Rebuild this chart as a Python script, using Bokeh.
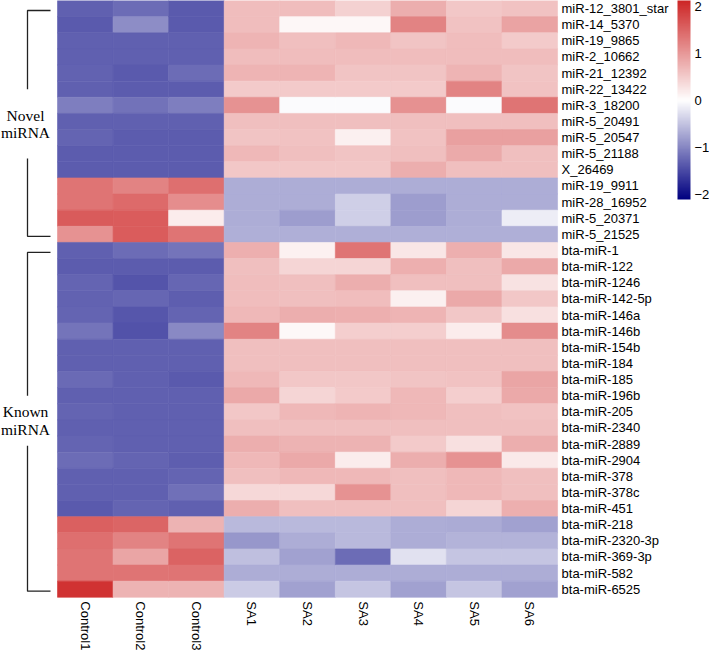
import math
from bokeh.plotting import figure
from bokeh.models import Range1d, LinearColorMapper, ColorBar, FixedTicker, ColumnDataSource
from bokeh.transform import transform
from bokeh.core.properties import value
from bokeh.embed import file_html
from bokeh.resources import INLINE

# ---------------- data ----------------
samples = ["Control1", "Control2", "Control3", "SA1", "SA2", "SA3", "SA4", "SA5", "SA6"]

novel = ["miR-12_3801_star", "miR-14_5370", "miR-19_9865", "miR-2_10662", "miR-21_12392",
         "miR-22_13422", "miR-3_18200", "miR-5_20491", "miR-5_20547", "miR-5_21188",
         "X_26469", "miR-19_9911", "miR-28_16952", "miR-5_20371", "miR-5_21525"]
known = ["bta-miR-1", "bta-miR-122", "bta-miR-1246", "bta-miR-142-5p", "bta-miR-146a",
         "bta-miR-146b", "bta-miR-154b", "bta-miR-184", "bta-miR-185", "bta-miR-196b",
         "bta-miR-205", "bta-miR-2340", "bta-miR-2889", "bta-miR-2904", "bta-miR-378",
         "bta-miR-378c", "bta-miR-451", "bta-miR-218", "bta-miR-2320-3p", "bta-miR-369-3p",
         "bta-miR-582", "bta-miR-6525"]
group_names = [("Novel", "miRNA"), ("Known", "miRNA")]

control1 = [-1.30, -1.35, -1.30, -1.30, -1.28, -1.30, -1.05, -1.30, -1.27, -1.33, -1.33,
            1.35, 1.35, 1.60, 1.05,
            -1.30, -1.33, -1.27, -1.28, -1.27, -1.13, -1.30, -1.30, -1.22, -1.30, -1.27,
            -1.30, -1.27, -1.20, -1.30, -1.30, -1.35, 1.55, 1.40, 1.35, 1.35, 2.00]
control2 = [-1.20, -0.93, -1.30, -1.30, -1.35, -1.33, -1.15, -1.30, -1.33, -1.33, -1.33,
            1.20, 1.45, 1.58, 1.58,
            -1.20, -1.33, -1.40, -1.25, -1.38, -1.42, -1.30, -1.30, -1.30, -1.30, -1.30,
            -1.30, -1.30, -1.27, -1.30, -1.30, -1.27, 1.50, 1.20, 0.88, 1.35, 0.75]
control3 = [-1.35, -1.35, -1.30, -1.30, -1.20, -1.33, -1.05, -1.30, -1.33, -1.33, -1.33,
            1.40, 1.10, 0.18, 1.35,
            -1.13, -1.33, -1.25, -1.32, -1.27, -0.97, -1.30, -1.30, -1.35, -1.30, -1.30,
            -1.30, -1.30, -1.32, -1.27, -1.17, -1.30, 0.75, 1.35, 1.52, 1.35, 0.75]
sa1 = [0.65, 0.65, 0.72, 0.65, 0.72, 0.52, 1.05, 0.62, 0.58, 0.70, 0.55,
       -0.67, -0.67, -0.67, -0.66,
       0.78, 0.62, 0.65, 0.65, 0.70, 1.20, 0.62, 0.62, 0.70, 0.85, 0.55,
       0.62, 0.80, 0.70, 0.62, 0.38, 0.80, -0.57, -0.85, -0.53, -0.67, -0.43]
sa2 = [0.65, 0.08, 0.62, 0.65, 0.72, 0.52, -0.03, 0.62, 0.60, 0.62, 0.55,
       -0.67, -0.67, -0.80, -0.66,
       0.13, 0.42, 0.62, 0.62, 0.80, 0.07, 0.62, 0.62, 0.55, 0.42, 0.70,
       0.62, 0.75, 0.85, 0.70, 0.38, 0.62, -0.57, -0.67, -0.78, -0.67, -0.78]
sa3 = [0.45, 0.08, 0.70, 0.65, 0.58, 0.52, -0.03, 0.62, 0.15, 0.58, 0.55,
       -0.67, -0.40, -0.40, -0.66,
       1.35, 0.42, 0.80, 0.65, 0.78, 0.48, 0.62, 0.62, 0.55, 0.52, 0.72,
       0.62, 0.75, 0.18, 0.70, 1.05, 0.62, -0.57, -0.57, -1.20, -0.67, -0.47]
sa4 = [0.80, 1.20, 0.58, 0.65, 0.58, 0.52, 1.07, 0.62, 0.60, 0.62, 0.80,
       -0.67, -0.80, -0.80, -0.66,
       0.25, 0.78, 0.62, 0.15, 0.72, 0.48, 0.62, 0.62, 0.58, 0.70, 0.70,
       0.62, 0.52, 0.80, 0.62, 0.62, 0.62, -0.67, -0.67, -0.25, -0.67, -0.78]
sa5 = [0.55, 0.60, 0.65, 0.65, 0.72, 1.20, -0.03, 0.62, 0.92, 0.82, 0.62,
       -0.67, -0.67, -0.67, -0.66,
       0.78, 0.62, 0.62, 0.85, 0.55, 0.18, 0.62, 0.62, 0.60, 0.48, 0.62,
       0.62, 0.30, 1.05, 0.70, 0.70, 0.42, -0.69, -0.63, -0.47, -0.67, -0.47]
sa6 = [0.60, 0.90, 0.52, 0.65, 0.58, 0.60, 1.35, 0.62, 0.92, 0.62, 0.62,
       -0.67, -0.67, -0.15, -0.66,
       0.25, 0.85, 0.28, 0.55, 0.30, 1.12, 0.62, 0.62, 0.88, 0.85, 0.60,
       0.62, 0.80, 0.22, 0.62, 0.62, 0.78, -0.78, -0.63, -0.47, -0.67, -0.78]

colorbar_ticks = [-2, -1, 0, 1, 2]

# ---------------- layout ----------------
W, H = 709, 650
col_px = 55.56
row_px = 16.13
heat_left_px = 57          # frame-relative px of heatmap left edge
mirnas = novel + known
n_rows = len(mirnas)
columns = [control1, control2, control3, sa1, sa2, sa3, sa4, sa5, sa6]

x0 = -heat_left_px / col_px
x1 = x0 + W / col_px
y1 = n_rows
y0 = y1 - H / row_px

p = figure(width=W, height=H, output_backend="svg", toolbar_location=None,
           x_range=Range1d(x0, x1), y_range=Range1d(y0, y1),
           min_border=0, min_border_left=0, min_border_right=0,
           min_border_top=0, min_border_bottom=0)
p.axis.visible = False
p.grid.visible = False
p.outline_line_color = None
p.background_fill_color = "white"
p.border_fill_color = "white"

# palette navy -> white -> firebrick3
def lerp(c1, c2, t):
    return tuple(int(round(a + (b - a) * t)) for a, b in zip(c1, c2))

navy, white, fire = (0, 0, 128), (255, 255, 255), (205, 38, 38)
palette = []
N = 128
for i in range(N):
    palette.append("#%02x%02x%02x" % lerp(navy, white, i / (N - 1)))
for i in range(1, N + 1):
    palette.append("#%02x%02x%02x" % lerp(white, fire, i / N))

mapper = LinearColorMapper(palette=palette, low=-2.1, high=2.12)

xs, ys, vs = [], [], []
for j, col in enumerate(columns):
    for i, v in enumerate(col):
        xs.append(j + 0.5)
        ys.append(n_rows - i - 0.5)
        vs.append(v)
src = ColumnDataSource(dict(x=xs, y=ys, v=vs))
p.rect(x="x", y="y", width=1, height=1, source=src,
       fill_color=transform("v", mapper), line_color=transform("v", mapper), line_width=0.6)

# row labels
sans = value("Liberation Sans")
p.text(x=[len(samples) + 4 / col_px] * n_rows, y=[n_rows - i - 0.5 for i in range(n_rows)],
       text=mirnas, text_font=sans, text_font_size="13px", text_baseline="middle",
       text_align="left", text_color="black")

# column labels
p.text(x=[j + 0.5 for j in range(len(samples))], y=[-4 / row_px] * len(samples),
       text=samples, angle=-math.pi / 2, text_font=sans, text_font_size="13px",
       text_baseline="middle", text_align="left", text_color="black")

# group brackets
xv = -30 / col_px
xh = -7 / col_px
groups = [(0, len(novel) - 1, 5.5, 9.8), (len(novel), n_rows - 1, 24.5, 27.6)]
serif = value("Liberation Serif")
for (first, last, g_top, g_bot), (l1, l2) in zip(groups, group_names):
    top = n_rows - (first + 0.62)
    bot = n_rows - (last + 0.62)
    gt = n_rows - g_top
    gb = n_rows - g_bot
    p.multi_line(xs=[[xh, xv, xv], [xv, xv, xh]], ys=[[top, top, gt], [gb, bot, bot]],
                 line_color="#222222", line_width=1.3)
    mid = (gt + gb) / 2
    p.text(x=[-32 / col_px] * 2, y=[mid + 0.55, mid - 0.55], text=[l1, l2],
           text_font=serif, text_font_size="15.5px", text_align="center",
           text_baseline="middle", text_color="black")

# colour bar
cb = ColorBar(color_mapper=mapper, location=(677, H - 199), width=13, height=199,
              padding=0, ticker=FixedTicker(ticks=colorbar_ticks),
              major_tick_line_color=None, minor_tick_line_color=None,
              bar_line_color=None, border_line_color=None,
              background_fill_color=None, background_fill_alpha=0,
              major_label_text_font="Liberation Sans", major_label_text_font_size="13px",
              major_label_text_color="black", label_standoff=4)
p.add_layout(cb)

open("out.html", "w").write(file_html(p, INLINE))
